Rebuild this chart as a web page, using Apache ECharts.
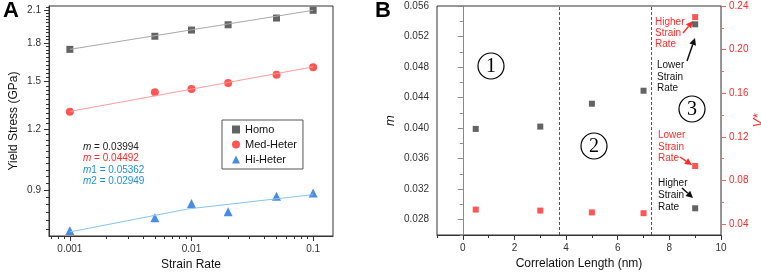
<!DOCTYPE html>
<html>
<head>
<meta charset="utf-8">
<script src="https://cdn.jsdelivr.net/npm/echarts@6/dist/echarts.min.js"></script>
<style>
  html, body { margin: 0; padding: 0; background: #fff; }
  #chart { width: 761px; height: 272px; }
</style>
</head>
<body>
<div id="chart"></div>
<script>
// ---- Panel A: yield stress vs strain rate (log-log) ----
const strainRates = [0.001, 0.005, 0.01, 0.02, 0.05, 0.1]
const homoStress = [1.745, 1.856, 1.911, 1.959, 2.022, 2.097]
const medStress = [1.301, 1.426, 1.448, 1.489, 1.549, 1.604]
const hiStress = [0.744, 0.790, 0.845, 0.813, 0.874, 0.888]
// fitted lines, end points
const homoFit = [[0.001, 1.745], [0.1, 2.097]]
const medFit = [[0.001, 1.303], [0.1, 1.607]]
const hiFit1 = [[0.001, 0.739], [0.01, 0.826]]
const hiFit2 = [[0.01, 0.825], [0.1, 0.881]]
const slopeTexts = ['{i|m} = 0.03994', '{i|m} = 0.04492', '{i|m}1 = 0.05362', '{i|m}2 = 0.02949']

const rateTicks = [0.001, 0.01, 0.1]
const stressTicks = [0.9, 1.2, 1.5, 1.8, 2.1]

// ---- Panel B: m and V* vs correlation length ----
const corrLength = [0.5, 3, 5, 7, 9, 9]
const mValues = [0.0399, 0.0402, 0.0432, 0.0449, 0.0536, 0.0295]
const vValues = [0.0533, 0.0524, 0.0507, 0.0500, 0.0933, 0.2298]
const regionBounds = [3.75, 7.3]

const lengthTicks = [0, 2, 4, 6, 8, 10]
const lengthMinor = [-1, 1, 3, 5, 7, 9]
const mTicks = [0.028, 0.032, 0.036, 0.040, 0.044, 0.048, 0.052, 0.056]
const mMinor = [0.026, 0.030, 0.034, 0.038, 0.042, 0.046, 0.050, 0.054]
const vTicks = [0.04, 0.08, 0.12, 0.16, 0.20, 0.24]
const vMinor = [0.06, 0.10, 0.14, 0.18, 0.22]

// log minor ticks
const rateMinor = []
;[0.0001, 0.001, 0.01].forEach(d => {
  for (let k = 2; k <= 9; k++) rateMinor.push(+(d * k).toPrecision(3))
})
const stressMinor = []
for (let v = 0.75; v < 2.14; v += 0.03) {
  const r = +v.toFixed(2)
  if (!stressTicks.includes(r)) stressMinor.push(r)
}

const FONT = 'Liberation Sans'
const RED = '#ff2a2a'

function mainAxis(extra) {
  return Object.assign({
    splitLine: { show: false },
    axisLine: { show: true, lineStyle: { color: '#333' } },
    axisTick: { show: true, length: 5, lineStyle: { color: '#333' } },
    axisLabel: { color: '#333', fontSize: 10, fontFamily: FONT },
    nameTextStyle: { color: '#111', fontSize: 12, fontFamily: FONT }
  }, extra)
}
function minorAxis(extra, ticks, color) {
  return Object.assign({
    splitLine: { show: false },
    axisLine: { show: false },
    axisLabel: { show: false },
    axisTick: { show: true, length: 3, customValues: ticks, lineStyle: { color: color || '#333' } }
  }, extra)
}

function arrow(x1, y1, x2, y2, color) {
  const a = Math.atan2(y2 - y1, x2 - x1)
  const L = 7, W = 3.5
  const bx = x2 - L * Math.cos(a), by = y2 - L * Math.sin(a)
  const px = -Math.sin(a) * W, py = Math.cos(a) * W
  return {
    type: 'group',
    children: [
      { type: 'line', shape: { x1, y1, x2: bx, y2: by }, style: { stroke: color, lineWidth: 1.5 } },
      { type: 'polygon', shape: { points: [[x2, y2], [bx + px, by + py], [bx - px, by - py]] }, style: { fill: color } }
    ]
  }
}
function circled(n, x, y) {
  return {
    type: 'group', x, y,
    children: [
      { type: 'circle', shape: { cx: 0, cy: 0, r: 13 }, style: { fill: 'none', stroke: '#000', lineWidth: 1.2 } },
      { type: 'text', style: { text: String(n), x: 0, y: 1, align: 'center', verticalAlign: 'middle', font: '20px "Liberation Serif"', fill: '#000' } }
    ]
  }
}
function label(text, x, y, color, size) {
  return { type: 'text', x, y, style: { text, fill: color, font: (size || 10) + 'px "' + FONT + '"', verticalAlign: 'middle' } }
}

const xMinA = 0.000674, xMaxA = 0.1456
const yMinA = 0.725, yMaxA = 2.14

const chart = echarts.init(document.getElementById('chart'))
chart.setOption({
  animation: false,
  grid: [
    { left: 49, top: 6, width: 284, height: 230, show: true, borderColor: '#333', borderWidth: 1, outerBoundsMode: 'none' },
    { left: 437, top: 6, width: 284, height: 229, show: true, borderColor: '#333', borderWidth: 1, outerBoundsMode: 'none' }
  ],
  xAxis: [
    mainAxis({
      gridIndex: 0, type: 'log', min: xMinA, max: xMaxA, position: 'bottom',
      name: 'Strain Rate', nameLocation: 'middle', nameGap: 23,
      axisTick: { length: 5, customValues: rateTicks, lineStyle: { color: '#333' } },
      axisLabel: { customValues: rateTicks, color: '#333', fontSize: 10, fontFamily: FONT, formatter: v => String(v) }
    }),
    minorAxis({ gridIndex: 0, type: 'log', min: xMinA, max: xMaxA, position: 'bottom' }, rateMinor),
    mainAxis({
      gridIndex: 1, type: 'value', min: -1, max: 10, position: 'bottom',
      name: 'Correlation Length (nm)', nameLocation: 'middle', nameGap: 23,
      axisTick: { length: 5, customValues: lengthTicks, lineStyle: { color: '#333' } },
      axisLabel: { customValues: lengthTicks, color: '#333', fontSize: 10, fontFamily: FONT }
    }),
    minorAxis({ gridIndex: 1, type: 'value', min: -1, max: 10, position: 'bottom' }, lengthMinor)
  ],
  yAxis: [
    mainAxis({
      gridIndex: 0, type: 'log', min: yMinA, max: yMaxA, position: 'left',
      name: 'Yield Stress (GPa)', nameLocation: 'middle', nameGap: 29, nameRotate: 90,
      axisTick: { length: 5, customValues: stressTicks, lineStyle: { color: '#333' } },
      axisLabel: { customValues: stressTicks, color: '#333', fontSize: 10, fontFamily: FONT, formatter: v => v.toFixed(1) }
    }),
    minorAxis({ gridIndex: 0, type: 'log', min: yMinA, max: yMaxA, position: 'left' }, stressMinor),
    mainAxis({
      gridIndex: 1, type: 'value', min: 0.026, max: 0.056, position: 'left',
      name: 'm', nameLocation: 'middle', nameGap: 40, nameRotate: 90,
      nameTextStyle: { color: '#111', fontSize: 13, fontStyle: 'italic', fontFamily: FONT },
      axisLine: { show: true, lineStyle: { color: '#888' } },
      axisTick: { length: 5, customValues: mTicks, lineStyle: { color: '#888' } },
      axisLabel: { customValues: mTicks, color: '#333', fontSize: 10, fontFamily: FONT, formatter: v => v.toFixed(3) }
    }),
    minorAxis({ gridIndex: 1, type: 'value', min: 0.026, max: 0.056, position: 'left' }, mMinor, '#888'),
    mainAxis({
      gridIndex: 1, type: 'value', min: 0.03, max: 0.24, position: 'right',
      name: 'V*', nameLocation: 'middle', nameGap: 27, nameRotate: 90,
      nameTextStyle: { color: RED, fontSize: 13, fontStyle: 'italic', fontFamily: FONT },
      axisLine: { show: true, lineStyle: { color: '#ff6060' } },
      axisTick: { length: 5, customValues: vTicks, lineStyle: { color: '#ff6060' } },
      axisLabel: { customValues: vTicks, color: RED, fontSize: 10, fontFamily: FONT, formatter: v => v.toFixed(2) }
    }),
    minorAxis({ gridIndex: 1, type: 'value', min: 0.03, max: 0.24, position: 'right' }, vMinor, '#ff6060')
  ],
  legend: {
    orient: 'vertical', left: 222, top: 120,
    data: ['Homo', 'Med-Heter', 'Hi-Heter'],
    itemWidth: 8, itemHeight: 8, itemGap: 4,
    padding: [4, 6, 4, 10],
    borderColor: '#555', borderWidth: 1,
    textStyle: { color: '#111', fontSize: 11, fontFamily: FONT }
  },
  series: [
    { type: 'line', xAxisIndex: 0, yAxisIndex: 0, data: homoFit, showSymbol: false, silent: true, lineStyle: { color: '#a8a8a8', width: 1 } },
    { type: 'line', xAxisIndex: 0, yAxisIndex: 0, data: medFit, showSymbol: false, silent: true, lineStyle: { color: '#ff9c9c', width: 1 } },
    { type: 'line', xAxisIndex: 0, yAxisIndex: 0, data: hiFit1, showSymbol: false, silent: true, lineStyle: { color: '#86c2ec', width: 1 } },
    { type: 'line', xAxisIndex: 0, yAxisIndex: 0, data: hiFit2, showSymbol: false, silent: true, lineStyle: { color: '#86c2ec', width: 1 } },
    {
      name: 'Homo', type: 'scatter', xAxisIndex: 0, yAxisIndex: 0, symbol: 'rect', symbolSize: 7,
      itemStyle: { color: '#3c3c3c' }, data: strainRates.map((x, i) => [x, homoStress[i]])
    },
    {
      name: 'Med-Heter', type: 'scatter', xAxisIndex: 0, yAxisIndex: 0, symbol: 'circle', symbolSize: 8,
      itemStyle: { color: RED }, data: strainRates.map((x, i) => [x, medStress[i]])
    },
    {
      name: 'Hi-Heter', type: 'scatter', xAxisIndex: 0, yAxisIndex: 0, symbol: 'triangle', symbolSize: 9,
      itemStyle: { color: '#1a6fe0' }, data: strainRates.map((x, i) => [x, hiStress[i]])
    },
    {
      type: 'scatter', xAxisIndex: 2, yAxisIndex: 2, symbol: 'rect', symbolSize: 6,
      itemStyle: { color: '#3c3c3c' }, data: corrLength.map((x, i) => [x, mValues[i]]),
      markLine: {
        silent: true, symbol: 'none', label: { show: false },
        lineStyle: { color: '#555', type: [3, 2], width: 1 },
        data: regionBounds.map(x => ({ xAxis: x }))
      }
    },
    {
      type: 'scatter', xAxisIndex: 2, yAxisIndex: 4, symbol: 'rect', symbolSize: 6,
      itemStyle: { color: RED }, data: corrLength.map((x, i) => [x, vValues[i]])
    }
  ],
  graphic: [
    { type: 'text', x: 3, y: 0, style: { text: 'A', font: 'bold 22px "' + FONT + '"', fill: '#000' } },
    { type: 'text', x: 375, y: 0, style: { text: 'B', font: 'bold 22px "' + FONT + '"', fill: '#000' } },
    ...slopeTexts.map((t, i) => {
      const colors = ['#222', RED, '#1f8ed8', '#1f8ed8']
      return {
        type: 'text', x: 83, y: 147 + i * 11.5,
        style: {
          text: t, fill: colors[i], font: '10px "' + FONT + '"', verticalAlign: 'middle',
          rich: { i: { fontStyle: 'italic', fill: colors[i], fontSize: 10, fontFamily: FONT } }
        }
      }
    }),
    circled(1, 491, 66),
    circled(2, 594, 146),
    circled(3, 692, 109),
    label('Higher', 655, 22, RED), label('Strain', 655, 33, RED), label('Rate', 655, 44, RED),
    label('Lower', 657, 65, '#111'), label('Strain', 657, 77, '#111'), label('Rate', 657, 88, '#111'),
    label('Lower', 658, 135, RED), label('Strain', 658, 147, RED), label('Rate', 658, 158, RED),
    label('Higher', 658, 183, '#111'), label('Strain', 658, 195, '#111'), label('Rate', 658, 207, '#111'),
    arrow(683, 33, 693, 21, RED),
    arrow(687, 61, 695, 38, '#111'),
    arrow(680, 157, 692, 165, RED),
    arrow(682, 188, 693, 198, '#111')
  ]
})
</script>
</body>
</html>
